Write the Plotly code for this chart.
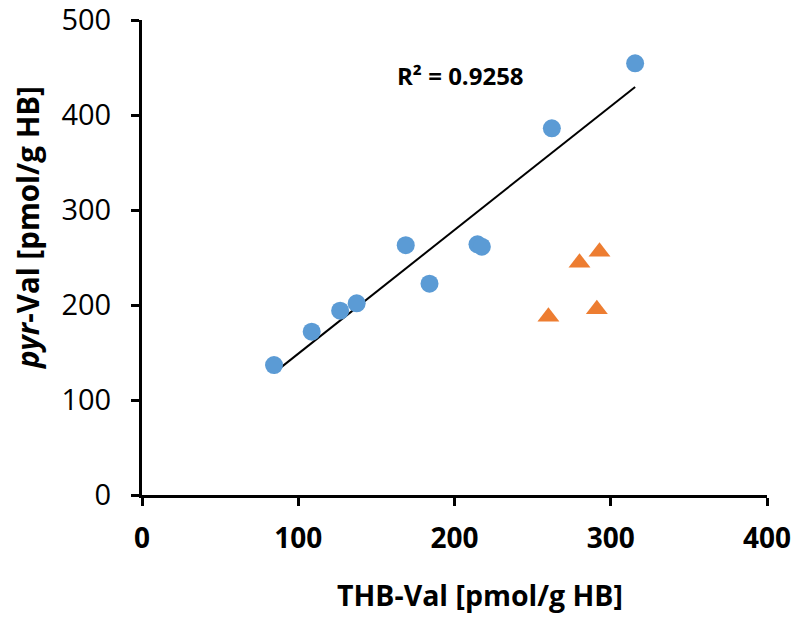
import numpy as np
import plotly.graph_objects as go

# Blue circle series (fitted)
thb_val_a = [84.5, 108.6, 126.8, 137.4, 168.8, 184.0, 214.7, 217.5, 262.3, 315.6]
pyr_val_a = [136.8, 171.9, 194.0, 201.8, 263.0, 222.5, 263.9, 261.4, 386.0, 454.4]
# Orange triangle series
thb_val_b = [260.1, 280.0, 292.8, 291.1]
pyr_val_b = [187.7, 244.5, 256.0, 195.4]

x_ticks = [0, 100, 200, 300, 400]
y_ticks = [0, 100, 200, 300, 400, 500]
r2_label = "R² = 0.9258"

slope, intercept = np.polyfit(thb_val_a, pyr_val_a, 1)
fit_x = [min(thb_val_a), max(thb_val_a)]
fit_y = [slope * v + intercept for v in fit_x]

fig = go.Figure()
fig.add_trace(go.Scatter(x=fit_x, y=fit_y, mode="lines",
                         line=dict(color="black", width=2), showlegend=False, hoverinfo="skip"))
fig.add_trace(go.Scatter(x=thb_val_a, y=pyr_val_a, mode="markers",
                         marker=dict(symbol="circle", size=18, color="#5B9BD5"), showlegend=False))
fig.add_trace(go.Scatter(x=thb_val_b, y=pyr_val_b, mode="markers",
                         marker=dict(symbol="triangle-up", size=19, color="#ED7D31"), showlegend=False))

font_family = "Open Sans"
axis_common = dict(showgrid=False, zeroline=False, showline=True, linecolor="black", linewidth=3,
                   ticks="outside", ticklen=8, tickwidth=3, tickcolor="black", automargin=False,
                   ticklabeloverflow="allow")

fig.update_layout(
    width=792, height=609,
    margin=dict(l=134, r=33, t=12, b=122),
    plot_bgcolor="white", paper_bgcolor="white",
    xaxis=dict(range=[0, 400], tickvals=x_ticks, ticktext=[f"<b>{v}</b>" for v in x_ticks],
               ticklabelstandoff=8,
               tickfont=dict(family=font_family, size=28, color="black"), **axis_common),
    yaxis=dict(range=[0, 500], tickvals=y_ticks, ticklabelstandoff=14,
               tickfont=dict(family=font_family, size=29, color="black"), **axis_common),
    annotations=[
        dict(text=f"<b>{r2_label}</b>", x=(460 - 142) / 625, y=(495 - 75) / 475, xref="paper", yref="paper",
             xanchor="center", yanchor="middle", showarrow=False,
             font=dict(family=font_family, size=24, color="black")),
        dict(text="<b>THB-Val [pmol/g HB]</b>", x=(480 - 142) / 625, xref="paper", y=-100 / 475, yref="paper",
             xanchor="center", yanchor="middle", showarrow=False,
             font=dict(family=font_family, size=28.5, color="black")),
        dict(text="<b><i>pyr</i>-Val [pmol/g HB]</b>", x=(28 - 142) / 625, xref="paper",
             y=(495 - 228) / 475, yref="paper",
             xanchor="center", yanchor="middle", textangle=-90, showarrow=False,
             font=dict(family=font_family, size=29.5, color="black")),
    ],
)

fig.write_html("out.html")
